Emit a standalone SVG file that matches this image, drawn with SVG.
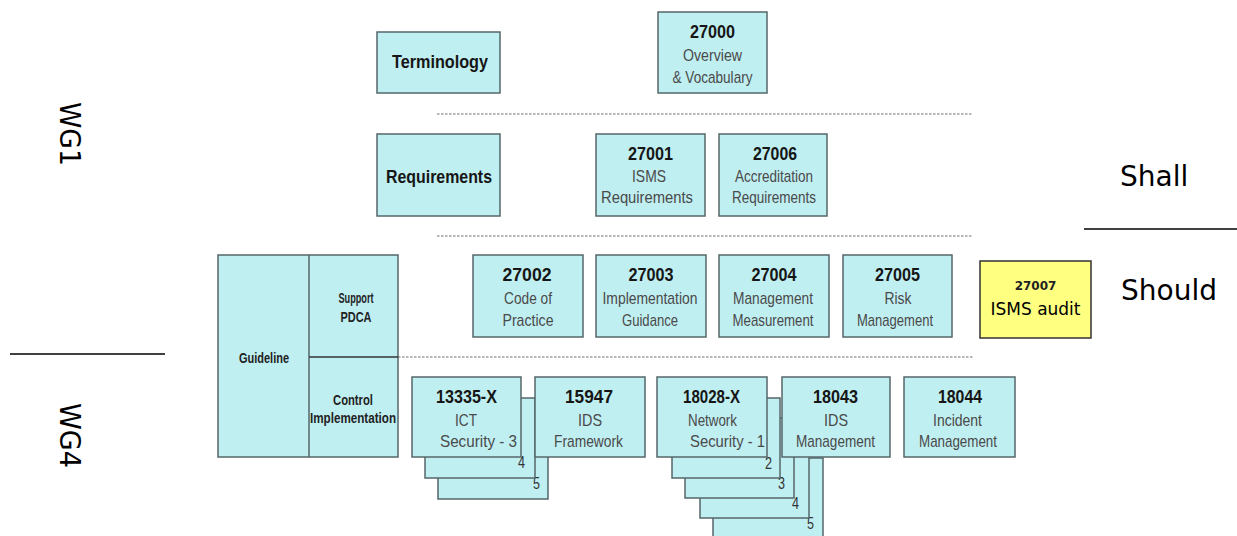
<svg xmlns="http://www.w3.org/2000/svg" width="1237" height="536" viewBox="0 0 1237 536">
<style>
.box{fill:#c0eff2;stroke:#55676a;stroke-width:1.5}
.num{font-family:"Liberation Sans",Arial,sans-serif;font-weight:bold;font-size:19px;fill:#161616;text-anchor:middle}
.sub{font-family:"Liberation Sans",Arial,sans-serif;font-size:17px;fill:#4a4a4a;text-anchor:middle}
.lbl{font-family:"Liberation Sans",Arial,sans-serif;font-weight:bold;font-size:14px;fill:#222;text-anchor:middle}
.big{font-family:"Liberation Sans",Arial,sans-serif;font-weight:bold;font-size:19px;fill:#161616;text-anchor:middle}
.pg{font-family:"Liberation Sans",Arial,sans-serif;font-size:16px;fill:#333}
.dot{stroke:#707070;stroke-width:1.2;stroke-dasharray:2.5 1.5;fill:none}
.side{font-family:"DejaVu Sans",Verdana,sans-serif;font-size:28px;fill:#000}
.rule{stroke:#000;stroke-width:1.5}
</style>
<rect width="1237" height="536" fill="#fff"/>

<g id="separators">
<line class="dot" x1="437" y1="114" x2="973" y2="114"/>
<line class="dot" x1="437" y1="236" x2="973" y2="236"/>
<line class="dot" x1="398" y1="357" x2="973" y2="357"/>
<line class="rule" x1="10" y1="354" x2="165" y2="354"/>
<line class="rule" x1="1084" y1="229" x2="1237" y2="229"/>
</g>

<g id="wg1"><text class="side" x="60" y="102" transform="rotate(90 60 102)" textLength="64" lengthAdjust="spacingAndGlyphs">WG1</text></g>
<g id="wg4"><text class="side" x="60" y="403" transform="rotate(90 60 403)" textLength="65" lengthAdjust="spacingAndGlyphs">WG4</text></g>
<g id="shall"><text class="side" x="1120" y="186">Shall</text></g>
<g id="should"><text class="side" x="1121" y="300">Should</text></g>

<g id="terminology">
<rect class="box" x="377" y="32" width="123" height="61"/>
<text class="big" x="440" y="68" textLength="96" lengthAdjust="spacingAndGlyphs">Terminology</text>
</g>
<g id="n27000">
<rect class="box" x="658" y="12" width="109" height="81"/>
<text class="num" x="712.5" y="38" textLength="45" lengthAdjust="spacingAndGlyphs">27000</text>
<text class="sub" x="712.5" y="61" textLength="59" lengthAdjust="spacingAndGlyphs">Overview</text>
<text class="sub" x="712.5" y="83" textLength="80" lengthAdjust="spacingAndGlyphs">&amp; Vocabulary</text>
</g>

<g id="requirements">
<rect class="box" x="377" y="134" width="123" height="82"/>
<text class="big" x="439" y="183" textLength="106" lengthAdjust="spacingAndGlyphs">Requirements</text>
</g>
<g id="n27001">
<rect class="box" x="596" y="134" width="109" height="82"/>
<text class="num" x="650.5" y="160" textLength="45" lengthAdjust="spacingAndGlyphs">27001</text>
<text class="sub" x="649" y="182" textLength="34" lengthAdjust="spacingAndGlyphs">ISMS</text>
<text class="sub" x="647" y="203" textLength="92" lengthAdjust="spacingAndGlyphs">Requirements</text>
</g>
<g id="n27006">
<rect class="box" x="719" y="134" width="108" height="82"/>
<text class="num" x="775" y="160" textLength="44" lengthAdjust="spacingAndGlyphs">27006</text>
<text class="sub" x="774" y="182" textLength="78" lengthAdjust="spacingAndGlyphs">Accreditation</text>
<text class="sub" x="774" y="203" textLength="84" lengthAdjust="spacingAndGlyphs">Requirements</text>
</g>

<g id="guideline">
<rect class="box" x="218" y="255" width="180" height="202"/>
<line x1="309" y1="255" x2="309" y2="457" stroke="#55676a" stroke-width="1.5"/>
<line x1="309" y1="357" x2="398" y2="357" stroke="#333" stroke-width="1.5"/>
<text class="lbl" x="264" y="363" textLength="50" lengthAdjust="spacingAndGlyphs">Guideline</text>
<text class="lbl" x="356" y="303" textLength="35" lengthAdjust="spacingAndGlyphs">Support</text>
<text class="lbl" x="356" y="322" textLength="31" lengthAdjust="spacingAndGlyphs">PDCA</text>
<text class="lbl" x="353" y="405" textLength="40" lengthAdjust="spacingAndGlyphs">Control</text>
<text class="lbl" x="353" y="423" textLength="86" lengthAdjust="spacingAndGlyphs">Implementation</text>
</g>

<g id="n27002">
<rect class="box" x="473" y="255" width="110" height="82"/>
<text class="num" x="527" y="281" textLength="49" lengthAdjust="spacingAndGlyphs">27002</text>
<text class="sub" x="528" y="304" textLength="48" lengthAdjust="spacingAndGlyphs">Code of</text>
<text class="sub" x="528" y="326" textLength="51" lengthAdjust="spacingAndGlyphs">Practice</text>
</g>
<g id="n27003">
<rect class="box" x="596" y="255" width="110" height="82"/>
<text class="num" x="651" y="281" textLength="45" lengthAdjust="spacingAndGlyphs">27003</text>
<text class="sub" x="650" y="304" textLength="95" lengthAdjust="spacingAndGlyphs">Implementation</text>
<text class="sub" x="650" y="326" textLength="56" lengthAdjust="spacingAndGlyphs">Guidance</text>
</g>
<g id="n27004">
<rect class="box" x="719" y="255" width="110" height="82"/>
<text class="num" x="774" y="281" textLength="45" lengthAdjust="spacingAndGlyphs">27004</text>
<text class="sub" x="773" y="304" textLength="80" lengthAdjust="spacingAndGlyphs">Management</text>
<text class="sub" x="773" y="326" textLength="81" lengthAdjust="spacingAndGlyphs">Measurement</text>
</g>
<g id="n27005">
<rect class="box" x="843" y="255" width="109" height="82"/>
<text class="num" x="897.5" y="281" textLength="45" lengthAdjust="spacingAndGlyphs">27005</text>
<text class="sub" x="898" y="304" textLength="27" lengthAdjust="spacingAndGlyphs">Risk</text>
<text class="sub" x="895" y="326" textLength="76" lengthAdjust="spacingAndGlyphs">Management</text>
</g>
<g id="n27007">
<rect x="980" y="261" width="111" height="77" fill="#ffff80" stroke="#333" stroke-width="1.5"/>
<text x="1035.5" y="290" font-family="'DejaVu Sans',Verdana,sans-serif" font-weight="bold" font-size="12" fill="#222" text-anchor="middle">27007</text>
<text x="1035.5" y="315" font-family="'DejaVu Sans',Verdana,sans-serif" font-size="17" fill="#000" text-anchor="middle">ISMS audit</text>
</g>

<g id="n13335">
<rect class="box" x="438" y="419" width="110" height="80"/>
<text class="pg" x="533" y="489" textLength="7" lengthAdjust="spacingAndGlyphs">5</text>
<rect class="box" x="425" y="398" width="110" height="80"/>
<text class="pg" x="518" y="468" textLength="7" lengthAdjust="spacingAndGlyphs">4</text>
<rect class="box" x="412" y="377" width="109" height="80"/>
<text class="num" x="466.5" y="403" textLength="61" lengthAdjust="spacingAndGlyphs">13335-X</text>
<text class="sub" x="466" y="426" textLength="22" lengthAdjust="spacingAndGlyphs">ICT</text>
<text class="sub" x="440" y="447" style="text-anchor:start" textLength="77" lengthAdjust="spacingAndGlyphs">Security - 3</text>
</g>
<g id="n15947">
<rect class="box" x="535" y="377" width="110" height="80"/>
<text class="num" x="589" y="403" textLength="48" lengthAdjust="spacingAndGlyphs">15947</text>
<text class="sub" x="590" y="426" textLength="24" lengthAdjust="spacingAndGlyphs">IDS</text>
<text class="sub" x="588.5" y="447" textLength="69" lengthAdjust="spacingAndGlyphs">Framework</text>
</g>
<g id="n18028">
<rect class="box" x="713" y="458" width="110" height="84"/>
<text class="pg" x="807" y="529" textLength="7" lengthAdjust="spacingAndGlyphs">5</text>
<rect class="box" x="700" y="438" width="109" height="80"/>
<text class="pg" x="792" y="509" textLength="7" lengthAdjust="spacingAndGlyphs">4</text>
<rect class="box" x="685" y="418" width="109" height="80"/>
<text class="pg" x="778" y="489" textLength="7" lengthAdjust="spacingAndGlyphs">3</text>
<rect class="box" x="672" y="398" width="108" height="80"/>
<text class="pg" x="765" y="469" textLength="7" lengthAdjust="spacingAndGlyphs">2</text>
<rect class="box" x="657" y="377" width="110" height="80"/>
<text class="num" x="711.5" y="403" textLength="57" lengthAdjust="spacingAndGlyphs">18028-X</text>
<text class="sub" x="712.5" y="426" textLength="49" lengthAdjust="spacingAndGlyphs">Network</text>
<text class="sub" x="690" y="447" style="text-anchor:start" textLength="75" lengthAdjust="spacingAndGlyphs">Security - 1</text>
</g>
<g id="n18043">
<rect class="box" x="782" y="377" width="108" height="80"/>
<text class="num" x="835.5" y="403" textLength="45" lengthAdjust="spacingAndGlyphs">18043</text>
<text class="sub" x="836" y="426" textLength="24" lengthAdjust="spacingAndGlyphs">IDS</text>
<text class="sub" x="835.5" y="447" textLength="79" lengthAdjust="spacingAndGlyphs">Management</text>
</g>
<g id="n18044">
<rect class="box" x="904" y="377" width="111" height="80"/>
<text class="num" x="960" y="403" textLength="44" lengthAdjust="spacingAndGlyphs">18044</text>
<text class="sub" x="957.5" y="426" textLength="49" lengthAdjust="spacingAndGlyphs">Incident</text>
<text class="sub" x="958" y="447" textLength="78" lengthAdjust="spacingAndGlyphs">Management</text>
</g>
</svg>
